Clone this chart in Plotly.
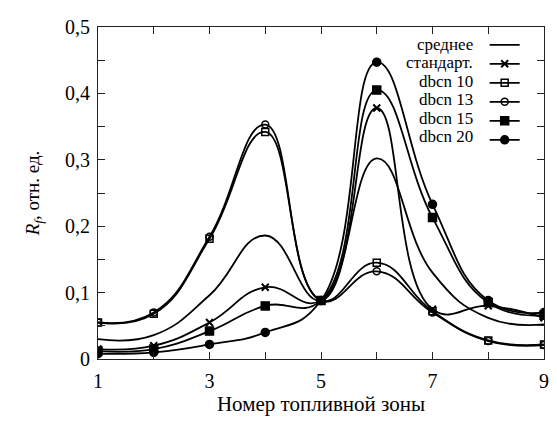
import plotly.graph_objects as go

zones = [1, 2, 3, 4, 5, 6, 7, 8, 9]

sredn = [0.030, 0.036, 0.096, 0.186, 0.088, 0.302, 0.130, 0.062, 0.052]
standart = [0.015, 0.020, 0.055, 0.108, 0.088, 0.378, 0.075, 0.080, 0.062]
dbcn10 = [0.055, 0.068, 0.181, 0.342, 0.088, 0.145, 0.072, 0.028, 0.022]
dbcn13 = [0.055, 0.070, 0.184, 0.353, 0.088, 0.132, 0.070, 0.027, 0.021]
dbcn15 = [0.012, 0.015, 0.042, 0.080, 0.088, 0.405, 0.213, 0.085, 0.066]
dbcn20 = [0.008, 0.010, 0.022, 0.040, 0.088, 0.447, 0.233, 0.088, 0.070]

names = ["среднее", "стандарт.", "dbcn 10", "dbcn 13", "dbcn 15", "dbcn 20"]
series = [sredn, standart, dbcn10, dbcn13, dbcn15, dbcn20]
symbols = [None, "x-thin", "square-open", "circle-open", "square", "circle"]

x_tickvals = [1, 2, 3, 4, 5, 6, 7, 8, 9]
x_ticktext = ["1", "", "3", "", "5", "", "7", "", "9"]
y_tickvals = [0, 0.05, 0.1, 0.15, 0.2, 0.25, 0.3, 0.35, 0.4, 0.45, 0.5]
y_ticktext = ["0", "", "0,1", "", "0,2", "", "0,3", "", "0,4", "", "0,5"]

SERIF = "Liberation Serif"

fig = go.Figure()
for name, ys, sym in zip(names, series, symbols):
    line = dict(color="black", width=1.8, shape="spline", smoothing=1.3)
    if sym is None:
        fig.add_trace(go.Scatter(x=zones, y=ys, name="", legendgroup=name, mode="lines", line=line,
                                 hovertemplate=name + ": %{y}<extra></extra>"))
    else:
        msize = 7
        mline = dict(color="black", width=1.5)
        if sym == "x-thin":
            mline = dict(color="black", width=2)
        if sym in ("square", "circle"):
            msize = 8
        fig.add_trace(go.Scatter(x=zones, y=ys, name="", legendgroup=name, mode="lines+markers", line=line,
                                 marker=dict(symbol=sym, size=msize, color="black", line=mline),
                                 hovertemplate=name + ": %{y}<extra></extra>"))

# legend labels, right-aligned to the left of the legend keys (rows 19 px apart)
legend_rows_y = [0.947, 0.892, 0.836, 0.781, 0.725, 0.670]
for name, yy in zip(names, legend_rows_y):
    fig.add_annotation(text=name, xref="paper", yref="paper", x=0.845, y=yy,
                       xanchor="right", yanchor="middle", showarrow=False,
                       font=dict(family=SERIF, size=17, color="black"))

axis_common = dict(showline=True, linecolor="#222", linewidth=1, mirror="ticks",
                   ticks="inside", ticklen=7, tickcolor="#222", showgrid=False, zeroline=False,
                   ticklabeloverflow="allow",
                   tickfont=dict(family=SERIF, size=20, color="black"))

fig.update_xaxes(range=[1, 9], tickvals=x_tickvals, ticktext=x_ticktext, ticklabelstandoff=4,
                 title=dict(text="Номер топливной зоны", font=dict(family=SERIF, size=21, color="black"), standoff=3),
                 **axis_common)
fig.update_yaxes(range=[0, 0.5], tickvals=y_tickvals, ticktext=y_ticktext, ticklabelstandoff=3,
                 title=dict(text="<i>R</i><sub><i>f</i></sub>, отн. ед.", font=dict(family=SERIF, size=19, color="black"), standoff=20),
                 **axis_common)

fig.update_layout(
    width=549, height=420,
    margin=dict(l=90, r=8, t=9, b=69),
    paper_bgcolor="white", plot_bgcolor="white",
    font=dict(family=SERIF, size=16, color="black"),
    legend=dict(x=0.867, y=0.99, xanchor="left", yanchor="top", bgcolor="rgba(0,0,0,0)",
                borderwidth=0, font=dict(family=SERIF, size=12, color="black"), tracegroupgap=0),
)

fig.write_html("out.html")
